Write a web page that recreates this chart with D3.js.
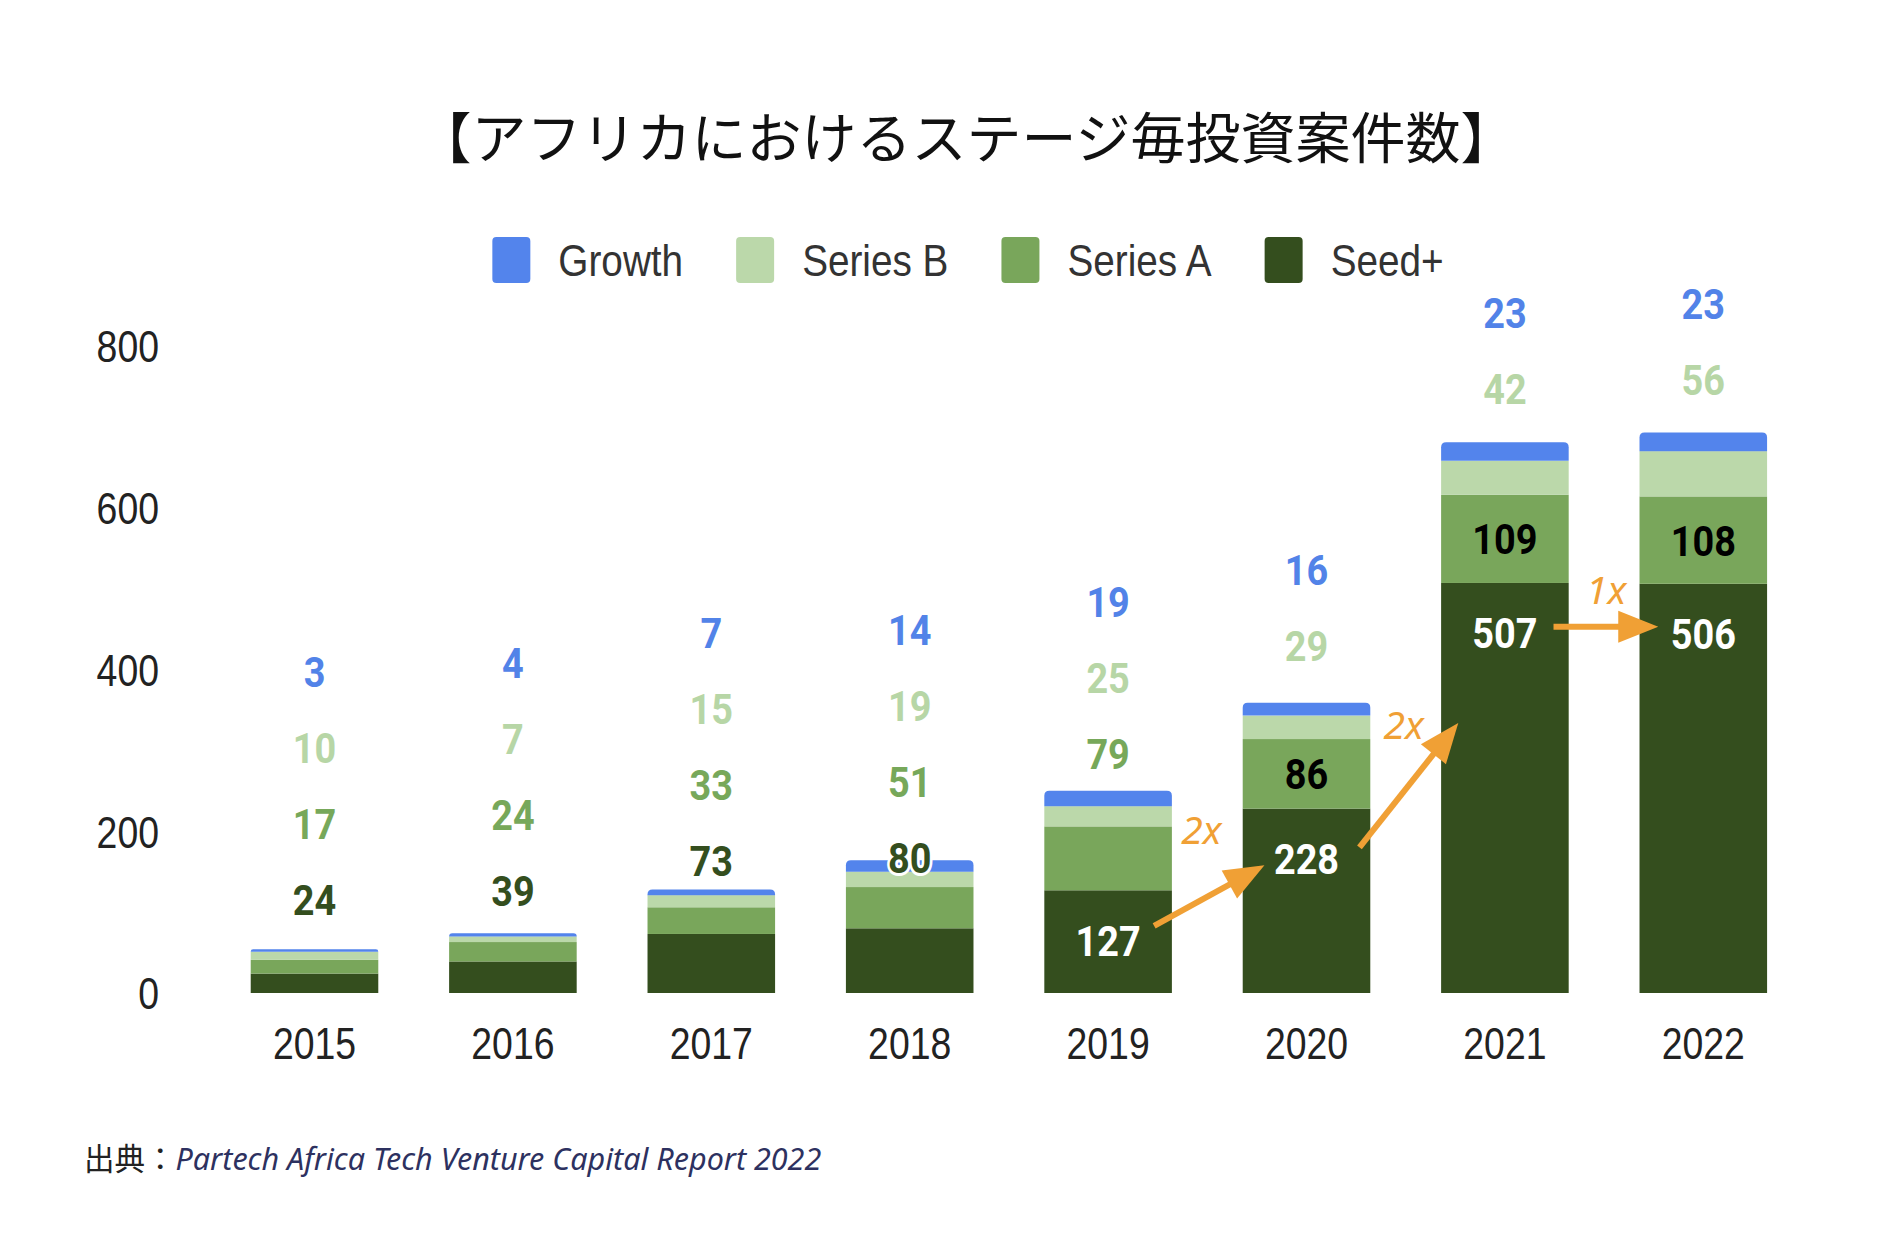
<!DOCTYPE html>
<html>
<head>
<meta charset="utf-8">
<script src="https://cdn.jsdelivr.net/npm/d3@7"></script>
<style>
  body { margin: 0; background: #fff; }
</style>
</head>
<body>
<div id="chart"></div>
<script>
// deals per stage in Africa, Partech report 2022
const years   = ["2015", "2016", "2017", "2018", "2019", "2020", "2021", "2022"];
const seed    = [24, 39, 73, 80, 127, 228, 507, 506];
const seriesA = [17, 24, 33, 51, 79, 86, 109, 108];
const seriesB = [10, 7, 15, 19, 25, 29, 42, 56];
const growth  = [3, 4, 7, 14, 19, 16, 23, 23];
const yTicks  = [0, 200, 400, 600, 800];
const stages  = ["Seed+", "Series A", "Series B", "Growth"];
const legendOrder = ["Growth", "Series B", "Series A", "Seed+"];

// label layout (chart units): where the top label of each column sits,
// and how many of the labels stay above the bar
const labelTop = [397, 409, 446, 449, 484, 524, 841, 853];
const outside  = [4, 4, 4, 4, 3, 2, 2, 2];

// multiplier arrows, [year index, value]
const arrows = [
  { from: [4.232, 83],  to: [4.788, 158], text: "2x", at: [4.47, 202] },
  { from: [5.267, 180], to: [5.765, 334], text: "2x", at: [5.49, 331] },
  { from: [6.245, 453], to: [6.773, 453], text: "1x", at: [6.51, 498] }
];

const W = 1880, H = 1238;
const squeeze = 0.85;
const fill = { "Growth": "#5384ec", "Series B": "#bbd8aa", "Series A": "#79a65b", "Seed+": "#344e1e" };
const ink  = { "Growth": "#5283e8", "Series B": "#b7d6a6", "Series A": "#77a85a", "Seed+": "#344e1e" };

const table = years.map((yr, i) => ({
  year: yr, "Seed+": seed[i], "Series A": seriesA[i], "Series B": seriesB[i], "Growth": growth[i]
}));
const series = d3.stack().keys(stages)(table);

const svg = d3.select("#chart").append("svg")
  .attr("width", W)
  .attr("height", H)
  .style("background", "#fff");

const x = d3.scaleBand()
  .domain(years)
  .range([215.3, 1802.5])
  .paddingInner(0.357)
  .paddingOuter(0.1785);

const y = d3.scaleLinear()
  .domain([0, 800])
  .range([993, 346]);

const xi = d3.scaleLinear()
  .domain([0, years.length - 1])
  .range([x(years[0]) + x.bandwidth() / 2, x(years[years.length - 1]) + x.bandwidth() / 2]);

// title
svg.append("text")
  .attr("x", 966)
  .attr("y", 158)
  .attr("text-anchor", "middle")
  .style("font-family", "'Noto Sans CJK JP', sans-serif")
  .style("font-size", "55px")
  .attr("fill", "#111")
  .text("【アフリカにおけるステージ毎投資案件数】");

// legend
const legSqueeze = 0.88;
const legend = svg.append("g");
const items = legend.selectAll("g").data(legendOrder).join("g");
items.append("rect")
  .attr("width", 38)
  .attr("height", 46)
  .attr("y", 237)
  .attr("rx", 4)
  .attr("fill", d => fill[d]);
items.append("text")
  .attr("transform", `translate(66,260) scale(${legSqueeze},1)`)
  .attr("dy", "0.36em")
  .style("font-family", "'Liberation Sans', Arial, sans-serif")
  .style("font-size", "44px")
  .attr("fill", "#333")
  .text(d => d);

let widths = [];
items.each(function () {
  widths.push(66 + d3.select(this).select("text").node().getComputedTextLength() * legSqueeze);
});
const gap = 53;
const total = d3.sum(widths) + gap * (widths.length - 1);
let cursor = 968 - total / 2;
items.attr("transform", (d, i) => {
  const t = `translate(${cursor},0)`;
  cursor += widths[i] + gap;
  return t;
});

// axes
const yAxis = d3.axisLeft(y).tickValues(yTicks).tickSize(0).tickPadding(0);
svg.append("g")
  .attr("transform", "translate(159,0)")
  .call(yAxis)
  .call(g => g.select(".domain").remove())
  .selectAll("text")
  .attr("dy", "0.36em")
  .attr("transform", `scale(${squeeze},1)`)
  .style("font-family", "'Liberation Sans', Arial, sans-serif")
  .style("font-size", "44px")
  .attr("fill", "#222");

const xAxis = d3.axisBottom(x).tickSize(0).tickPadding(0);
svg.append("g")
  .attr("transform", `translate(0,${y(0)})`)
  .call(xAxis)
  .call(g => g.select(".domain").remove())
  .selectAll("text")
  .attr("y", 50)
  .attr("dy", "0.36em")
  .attr("transform", `scale(${squeeze},1)`)
  .style("font-family", "'Liberation Sans', Arial, sans-serif")
  .style("font-size", "44px")
  .attr("fill", "#222");

// bars
function roundTop(x0, y0, w, h, r) {
  r = Math.min(r, h, w / 2);
  return `M${x0},${y0 + h}V${y0 + r}Q${x0},${y0} ${x0 + r},${y0}` +
         `H${x0 + w - r}Q${x0 + w},${y0} ${x0 + w},${y0 + r}V${y0 + h}Z`;
}

const layers = svg.append("g").selectAll("g").data(series).join("g")
  .attr("fill", d => fill[d.key]);

layers.filter(d => d.key !== "Growth").selectAll("rect").data(d => d).join("rect")
  .attr("x", d => x(d.data.year))
  .attr("y", d => y(d[1]))
  .attr("width", x.bandwidth())
  .attr("height", d => y(d[0]) - y(d[1]));

layers.filter(d => d.key === "Growth").selectAll("path").data(d => d).join("path")
  .attr("d", d => roundTop(x(d.data.year), y(d[1]), x.bandwidth(), y(d[0]) - y(d[1]), 5));

// value labels
const labels = [];
years.forEach((yr, i) => {
  const cx = x(yr) + x.bandwidth() / 2;
  legendOrder.forEach((key, k) => {
    const layer = series.find(s => s.key === key)[i];
    const v = layer[1] - layer[0];
    if (k < outside[i]) {
      labels.push({ cx, cy: y(labelTop[i]) + k * 76, v, color: ink[key], halo: true });
    } else if (key === "Series A") {
      labels.push({ cx, cy: (y(layer[0]) + y(layer[1])) / 2, v, color: "#000", halo: false });
    } else {
      labels.push({ cx, cy: y(layer[1]) + 50, v, color: "#fff", halo: false });
    }
  });
});

svg.append("g").selectAll("text").data(labels).join("text")
  .attr("transform", d => `translate(${d.cx},${d.cy}) scale(0.88,1)`)
  .attr("dy", "0.36em")
  .attr("text-anchor", "middle")
  .style("font-family", "Roboto, 'Liberation Sans', sans-serif")
  .style("font-size", "43px")
  .style("font-weight", 700)
  .attr("fill", d => d.color)
  .attr("stroke", d => d.halo ? "#fff" : "none")
  .attr("stroke-width", 6)
  .attr("paint-order", "stroke")
  .text(d => d.v);

// growth arrows
const orange = "#f0a035";
const arrowG = svg.append("g");
arrows.forEach(a => {
  const x0 = xi(a.from[0]), y0 = y(a.from[1]);
  const x1 = xi(a.to[0]), y1 = y(a.to[1]);
  const len = Math.hypot(x1 - x0, y1 - y0);
  const ux = (x1 - x0) / len, uy = (y1 - y0) / len;
  const head = 40, half = 16;
  const bx = x1 - ux * head, by = y1 - uy * head;
  arrowG.append("line")
    .attr("x1", x0).attr("y1", y0)
    .attr("x2", bx + ux * 2).attr("y2", by + uy * 2)
    .attr("stroke", orange)
    .attr("stroke-width", 6);
  arrowG.append("path")
    .attr("d", `M${x1},${y1}L${bx - uy * half},${by + ux * half}L${bx + uy * half},${by - ux * half}Z`)
    .attr("fill", orange);
  arrowG.append("text")
    .attr("x", xi(a.at[0]))
    .attr("y", y(a.at[1]))
    .attr("dy", "0.36em")
    .attr("text-anchor", "middle")
    .style("font-family", "'Noto Sans', 'Open Sans', sans-serif")
    .style("font-style", "italic")
    .style("font-size", "39px")
    .attr("fill", orange)
    .text(a.text);
});

// source
const src = svg.append("text")
  .attr("x", 84)
  .attr("y", 1170)
  .style("font-size", "30.5px");
src.append("tspan")
  .style("font-family", "'Noto Sans CJK JP', sans-serif")
  .attr("fill", "#222")
  .text("出典：");
src.append("tspan")
  .style("font-family", "'Noto Sans', sans-serif")
  .style("font-style", "italic")
  .attr("fill", "#2d3160")
  .text("Partech Africa Tech Venture Capital Report 2022");
</script>
</body>
</html>
